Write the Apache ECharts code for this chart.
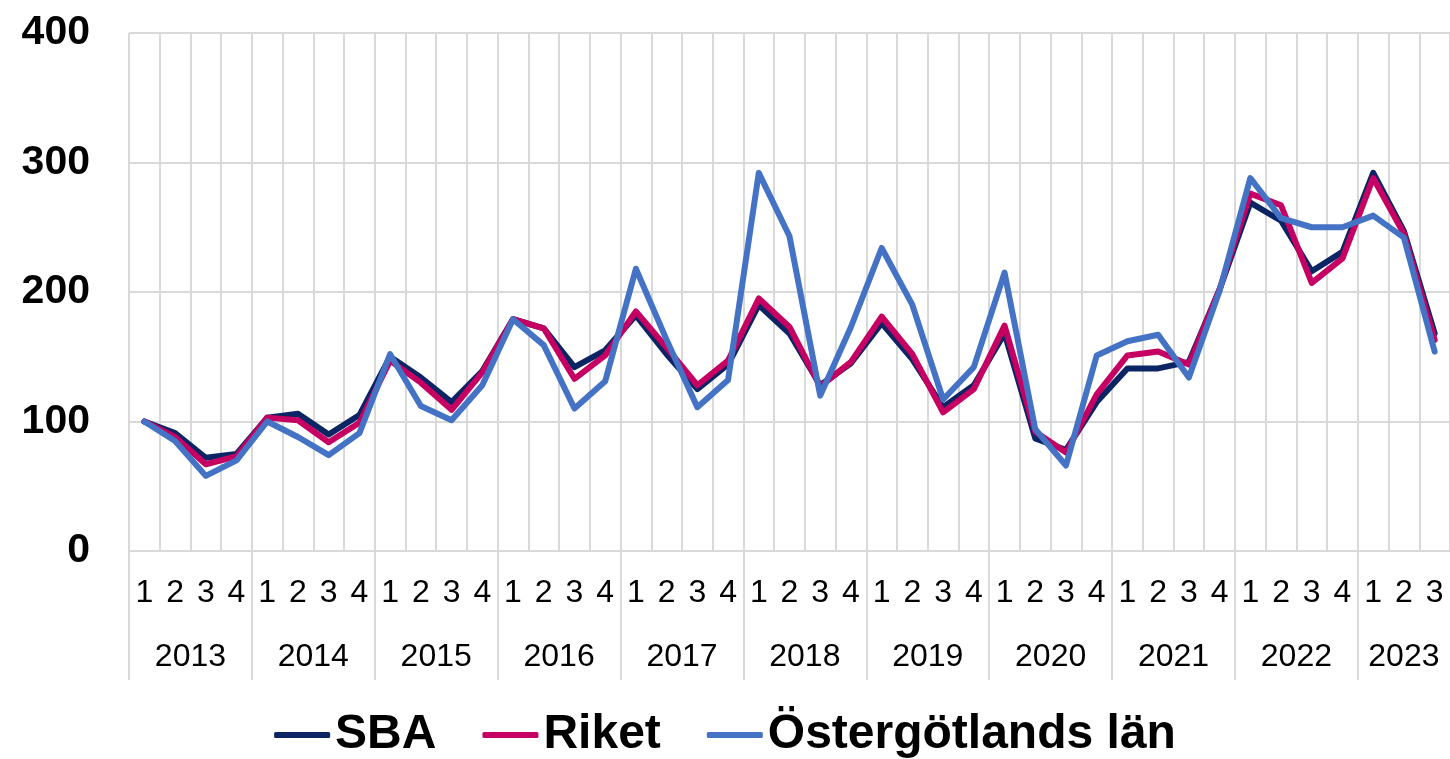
<!DOCTYPE html>
<html>
<head>
<meta charset="utf-8">
<script src="https://cdn.jsdelivr.net/npm/echarts@6/dist/echarts.min.js"></script>
<style>
  html, body { margin: 0; padding: 0; background: #fff; }
  #chart { width: 1450px; height: 759px; }
</style>
</head>
<body>
<div id="chart"></div>
<script>
// years and number of quarters shown for each
const years = ['2013', '2014', '2015', '2016', '2017', '2018', '2019', '2020', '2021', '2022', '2023']
const quartersPerYear = [4, 4, 4, 4, 4, 4, 4, 4, 4, 4, 3]
const yTicks = [0, 100, 200, 300, 400]

const sba = [100, 91, 72, 75, 103, 106, 90, 105, 150, 134, 115, 139,
  179, 172, 142, 155, 182, 152, 125, 144, 190, 168, 128, 145,
  176, 148, 111, 128, 168, 87, 78, 115, 141, 141, 146, 202,
  269, 255, 216, 231, 292, 247, 168]
const riket = [100, 88, 67, 73, 103, 101, 84, 99, 147, 130, 109, 138,
  179, 172, 133, 151, 185, 157, 128, 147, 195, 173, 127, 146,
  181, 152, 107, 125, 174, 92, 76, 121, 151, 154, 144, 202,
  276, 267, 207, 226, 288, 245, 163]
const ostergotland = [100, 85, 58, 70, 100, 88, 74, 91, 152, 112, 101, 128,
  179, 159, 110, 131, 218, 163, 111, 132, 292, 243, 120, 173,
  234, 190, 117, 142, 215, 94, 66, 151, 162, 167, 134, 201,
  288, 257, 250, 250, 259, 242, 154]

// quarter labels 1..4 for each year
const quarters = []
years.forEach((y, i) => {
  for (let q = 1; q <= quartersPerYear[i]; q++) quarters.push(String(q))
})

// helper axis of half-quarter steps, used for year labels and year separators
const halfSteps = new Array(quarters.length * 2 + 1).fill('')
const yearStarts = []
let pos = 0
years.forEach((y, i) => {
  yearStarts.push(pos * 2)
  halfSteps[pos * 2 + quartersPerYear[i]] = y
  pos += quartersPerYear[i]
})

const font = 'Liberation Sans'
const gridColor = '#d9d9d9'

let myChart = echarts.init(document.getElementById('chart'))
myChart.setOption({
  animation: false,
  grid: {
    left: 129,
    right: -6,
    top: 33,
    bottom: 208
  },
  legend: {
    data: ['SBA', 'Riket', 'Östergötlands län'],
    left: 'center',
    top: 706,
    icon: 'roundRect',
    itemWidth: 56,
    itemHeight: 6,
    itemGap: 46,
    textStyle: {
      fontFamily: font,
      fontWeight: 'bold',
      fontSize: 48,
      color: '#000'
    }
  },
  xAxis: [
    {
      type: 'category',
      data: quarters,
      boundaryGap: true,
      axisLine: { show: false },
      axisTick: { show: false },
      splitLine: {
        show: true,
        interval: 0,
        lineStyle: { color: gridColor, width: 2 }
      },
      axisLabel: {
        interval: 0,
        margin: 26,
        fontFamily: font,
        fontSize: 32,
        color: '#000'
      }
    },
    {
      type: 'category',
      data: halfSteps,
      boundaryGap: false,
      position: 'bottom',
      axisLine: { show: false },
      axisTick: {
        show: true,
        length: 129,
        interval: (index) => yearStarts.indexOf(index) >= 0,
        lineStyle: { color: gridColor, width: 2 }
      },
      axisLabel: {
        interval: (index, value) => value !== '',
        margin: 90,
        fontFamily: font,
        fontSize: 32,
        color: '#000'
      }
    }
  ],
  yAxis: {
    type: 'value',
    min: yTicks[0],
    max: yTicks[yTicks.length - 1],
    interval: 100,
    axisLine: { show: false },
    axisTick: { show: false },
    splitLine: { lineStyle: { color: gridColor, width: 2 } },
    axisLabel: {
      margin: 39,
      fontFamily: font,
      fontWeight: 'bold',
      fontSize: 41,
      color: '#000'
    }
  },
  series: [
    {
      name: 'SBA',
      type: 'line',
      data: sba,
      symbol: 'none',
      color: '#0b2463',
      lineStyle: { width: 6, cap: 'round', join: 'round' }
    },
    {
      name: 'Riket',
      type: 'line',
      data: riket,
      symbol: 'none',
      color: '#c60062',
      lineStyle: { width: 6, cap: 'round', join: 'round' }
    },
    {
      name: 'Östergötlands län',
      type: 'line',
      data: ostergotland,
      symbol: 'none',
      color: '#4472c4',
      lineStyle: { width: 6, cap: 'round', join: 'round' }
    }
  ]
})
window.addEventListener('resize', function () {
  myChart.resize()
})
</script>
</body>
</html>
